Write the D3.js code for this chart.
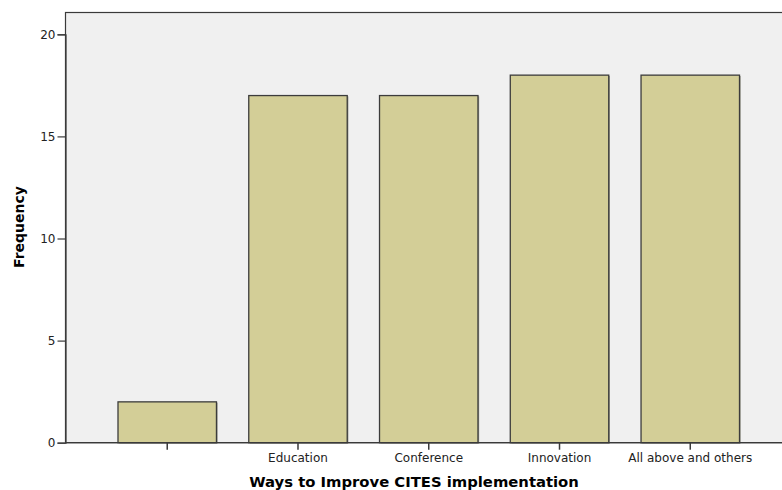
<!DOCTYPE html>
<html><head><meta charset="utf-8">
<script src="https://cdn.jsdelivr.net/npm/d3@7"></script>
<style>html,body{margin:0;padding:0;background:#fff;}svg{display:block;}</style>
</head><body>
<svg id="c" width="782" height="490"></svg>
<script>
const categories = ["", "Education", "Conference", "Innovation", "All above and others"];
const frequencies = [2, 17, 17, 18, 18];
const yTicks = [0, 5, 10, 15, 20];

(function(){
const svg = d3.select("#c");
const pLeft = 65.5, pRight = 792, pTop = 12.5, pBottom = 442.7;
const x = d3.scaleBand().domain(categories).range([pLeft, pRight]).paddingInner(0.247).paddingOuter(0.4015);
const y = d3.scaleLinear().domain([0, 20]).range([pBottom, 34.3]);

svg.append("rect").attr("x", pLeft).attr("y", pTop).attr("width", pRight - pLeft).attr("height", pBottom - pTop)
  .attr("fill", "#f0f0f0").attr("stroke", "#3a3a3a").attr("stroke-width", 1.2);

const bars = svg.append("g");
bars.selectAll("rect.s").data(frequencies).join("rect").attr("class","s")
  .attr("x", (d,i) => x(categories[i]) + 1.2).attr("y", d => y(d) + 0.8)
  .attr("width", x.bandwidth()).attr("height", d => pBottom - y(d))
  .attr("fill", "#8a8a7a").attr("opacity", 0.8);
bars.selectAll("rect.b").data(frequencies).join("rect").attr("class","b")
  .attr("x", (d,i) => x(categories[i])).attr("y", d => y(d))
  .attr("width", x.bandwidth()).attr("height", d => pBottom - y(d))
  .attr("fill", "#d3ce97").attr("stroke", "#3c3c3c").attr("stroke-width", 1.3);

const yAxis = d3.axisLeft(y).tickValues(yTicks).tickSize(8).tickPadding(2).tickFormat(d3.format("d"));
const gy = svg.append("g").attr("transform", `translate(${pLeft},0)`).call(yAxis);
gy.select(".domain").attr("stroke", "#3a3a3a").attr("stroke-width", 1.2);
gy.selectAll(".tick line").attr("stroke", "#3a3a3a").attr("stroke-width", 1.2);
gy.selectAll("text").attr("font-family", "DejaVu Sans, sans-serif").attr("font-size", 12).attr("fill", "#222");

const xAxis = d3.axisBottom(x).tickSize(7).tickPadding(4);
const gx = svg.append("g").attr("transform", `translate(0,${pBottom})`).call(xAxis);
gx.select(".domain").attr("stroke", "#3a3a3a").attr("stroke-width", 1.3).attr("d", `M${pLeft},0H${pRight}`);
gx.selectAll(".tick line").attr("stroke", "#3a3a3a").attr("stroke-width", 1.5);
gx.selectAll("text").attr("font-family", "DejaVu Sans, sans-serif").attr("font-size", 12).attr("fill", "#222");

svg.append("text").attr("x", 414).attr("y", 487).attr("text-anchor", "middle")
  .attr("font-family", "DejaVu Sans, sans-serif").attr("font-weight", "bold").attr("font-size", 14.8).attr("fill", "#000")
  .text("Ways to Improve CITES implementation");
svg.append("text").attr("transform", "translate(24,227) rotate(-90)").attr("text-anchor", "middle")
  .attr("font-family", "DejaVu Sans, sans-serif").attr("font-weight", "bold").attr("font-size", 14).attr("fill", "#000")
  .text("Frequency");
})();
</script>
</body></html>
